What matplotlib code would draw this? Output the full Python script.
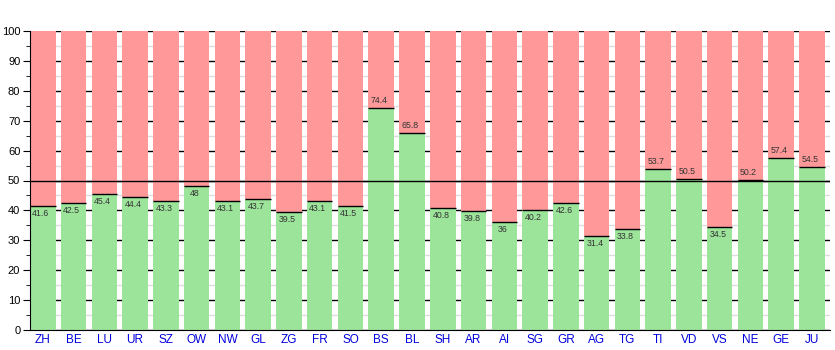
import matplotlib
matplotlib.use("Agg")
import matplotlib.pyplot as plt
import numpy as np
from matplotlib.ticker import MultipleLocator

cantons = ["ZH", "BE", "LU", "UR", "SZ", "OW", "NW", "GL", "ZG", "FR", "SO", "BS", "BL",
           "SH", "AR", "AI", "SG", "GR", "AG", "TG", "TI", "VD", "VS", "NE", "GE", "JU"]
yes_share = [41.6, 42.5, 45.4, 44.4, 43.3, 48, 43.1, 43.7, 39.5, 43.1, 41.5, 74.4, 65.8,
             40.8, 39.8, 36, 40.2, 42.6, 31.4, 33.8, 53.7, 50.5, 34.5, 50.2, 57.4, 54.5]

plt.rcParams['font.family'] = ['Liberation Sans', 'DejaVu Sans']

yes = np.array(yes_share)
no = 100 - yes
x = np.arange(len(cantons))
w = 0.83

fig = plt.figure(figsize=(8.35, 3.5), dpi=100)
ax = fig.add_axes([30 / 835, 20 / 350, 800 / 835, 299 / 350])

# grid behind the bars: black major lines, light grey minor lines
ax.set_axisbelow(True)
ax.yaxis.set_major_locator(MultipleLocator(10))
ax.yaxis.set_minor_locator(MultipleLocator(5))
ax.grid(axis='y', which='major', color='black', lw=1)
ax.grid(axis='y', which='minor', color='#dddddd', lw=1)

ax.bar(x, yes, width=w, color='#9de49b', zorder=2)
ax.bar(x, no, width=w, bottom=yes, color='#ff9999', zorder=2)
ax.hlines(yes, x - w / 2, x + w / 2, color='black', lw=1, zorder=3)

# label above the line when the share is over 50, below it otherwise
for xi, v in zip(x, yes_share):
    if v > 50:
        ax.text(xi - 0.06, v + 1.0, f"{v:g}", ha='center', va='bottom',
                fontsize=6.3, color='#333333', zorder=4)
    else:
        ax.text(xi - 0.06, v - 1.0, f"{v:g}", ha='center', va='top',
                fontsize=6.3, color='#333333', zorder=4)

ax.axhline(50, color='black', lw=1, zorder=4)

ax.set_xlim(-w / 2, len(cantons) - w / 2)
ax.set_ylim(0, 100)
ax.set_xticks(x)
ax.set_xticklabels(cantons, color='#0000dd', fontsize=8.5)
ax.tick_params(axis='x', length=0, pad=3)
ax.tick_params(axis='y', which='major', length=5, labelsize=8, colors='black', pad=2)
ax.tick_params(axis='y', which='minor', length=3)
for side in ['top', 'right']:
    ax.spines[side].set_visible(False)

fig.savefig("out.png", dpi=100)
